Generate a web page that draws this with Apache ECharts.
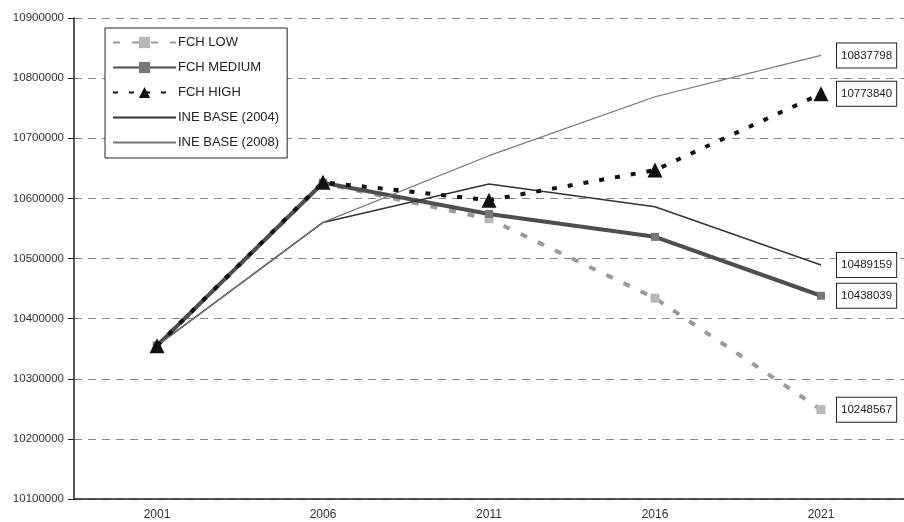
<!DOCTYPE html>
<html>
<head>
<meta charset="utf-8">
<style>
  html, body { margin: 0; padding: 0; background: #fff; }
  #chart { width: 904px; height: 522px; }
</style>
<script src="https://cdn.jsdelivr.net/npm/echarts@6/dist/echarts.min.js"></script>
</head>
<body>
<div id="chart"></div>
<script>
// Population projections, 2001-2021
const years = ['2001', '2006', '2011', '2016', '2021'];
const fchLow = [10355000, 10625000, 10566000, 10434000, 10248567];
const fchMedium = [10355000, 10626000, 10574000, 10536000, 10438039];
const fchHigh = [10355000, 10627000, 10597000, 10647000, 10773840];
const ineBase2004 = [10355000, 10560000, 10624000, 10586000, 10489159];
const ineBase2008 = [10355000, 10560000, 10671000, 10769000, 10837798];
const seriesNames = ['FCH LOW', 'FCH MEDIUM', 'FCH HIGH', 'INE BASE (2004)', 'INE BASE (2008)'];

const font = 'Liberation Sans, Arial, sans-serif';

function endLabel() {
  return {
    show: true,
    distance: 16,
    formatter: p => String(p.value),
    fontFamily: font,
    fontSize: 11.5,
    color: '#222',
    backgroundColor: '#fff',
    borderColor: '#222',
    borderWidth: 1,
    padding: [6, 4, 6, 4]
  };
}

// plain lines in the legend carry no marker
const legendData = seriesNames.map((n, i) =>
  i < 3 ? { name: n } : { name: n, itemStyle: { opacity: 0 } }
);

const chart = echarts.init(document.getElementById('chart'));
chart.setOption({
  backgroundColor: '#fff',
  animation: false,
  grid: { left: 74, right: 0, top: 18, bottom: 23 },
  legend: {
    orient: 'vertical',
    left: 105,
    top: 28,
    width: 188,
    padding: [8, 8, 9, 7],
    itemGap: 12,
    itemWidth: 63,
    itemHeight: 14,
    borderColor: '#222',
    borderWidth: 1,
    backgroundColor: '#fff',
    textStyle: { fontFamily: font, fontSize: 13, color: '#222', padding: [0, 0, 0, -3] },
    data: legendData
  },
  xAxis: {
    type: 'category',
    data: years,
    axisLine: { lineStyle: { color: '#222', width: 1.5 } },
    axisTick: { inside: true, length: 4, lineStyle: { color: '#222' } },
    axisLabel: { fontFamily: font, fontSize: 12, color: '#333', margin: 10 },
    splitLine: { show: false }
  },
  yAxis: {
    type: 'value',
    min: 10100000,
    max: 10900000,
    interval: 100000,
    axisLine: { show: true, lineStyle: { color: '#222', width: 1.5 } },
    axisTick: { show: true, length: 6, lineStyle: { color: '#222' } },
    axisLabel: { fontFamily: font, fontSize: 11.5, color: '#333', margin: 10, formatter: v => String(v) },
    splitLine: { lineStyle: { color: '#888', type: [8, 6], width: 1 } }
  },
  series: [
    {
      name: 'FCH LOW', type: 'line', data: fchLow,
      symbol: 'rect', symbolSize: 9,
      itemStyle: { color: '#b8b8b8' },
      lineStyle: { color: '#9a9a9a', width: 4, type: [7, 12] },
      endLabel: endLabel(), z: 2
    },
    {
      name: 'FCH MEDIUM', type: 'line', data: fchMedium,
      symbol: 'rect', symbolSize: 8,
      itemStyle: { color: '#777' },
      lineStyle: { color: '#4e4e4e', width: 4 },
      endLabel: endLabel(), z: 3
    },
    {
      name: 'FCH HIGH', type: 'line', data: fchHigh,
      symbol: 'triangle', symbolSize: 15,
      itemStyle: { color: '#111' },
      lineStyle: { color: '#111', width: 4, type: [5, 11] },
      endLabel: endLabel(), z: 5
    },
    {
      name: 'INE BASE (2004)', type: 'line', data: ineBase2004,
      symbol: 'none',
      itemStyle: { color: '#333' },
      lineStyle: { color: '#333', width: 1.5 },
      endLabel: endLabel(), z: 4
    },
    {
      name: 'INE BASE (2008)', type: 'line', data: ineBase2008,
      symbol: 'none',
      itemStyle: { color: '#777' },
      lineStyle: { color: '#777', width: 1.2 },
      endLabel: endLabel(), z: 4
    }
  ]
});
</script>
</body>
</html>
